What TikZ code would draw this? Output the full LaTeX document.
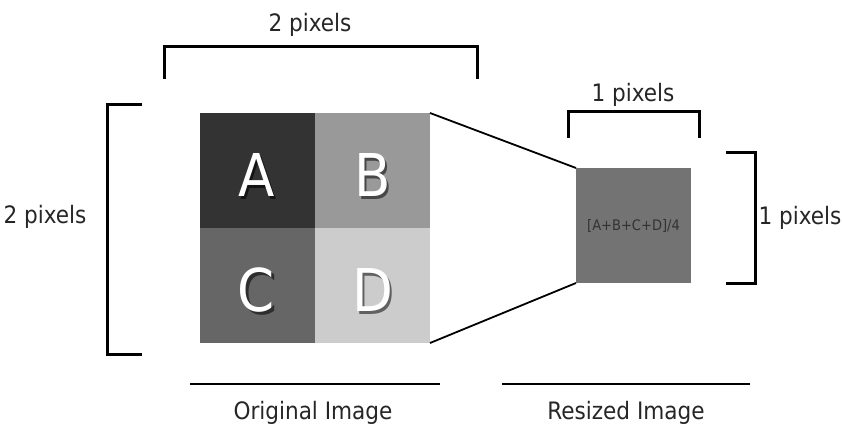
\documentclass[tikz,border=0pt]{standalone}
\usepackage{fontspec}
\setmainfont{DejaVu Sans Condensed}
\usetikzlibrary{calc}
\newcommand{\shadowed}[2]{\rlap{\kern2.5pt\raisebox{-2.5pt}{\color{#2}#1}}\color{white}#1}
\begin{document}
\begin{tikzpicture}[x=1pt,y=-1pt,
  cell/.style={minimum size=115pt, inner sep=0pt, outer sep=0pt, draw=none},
  letter/.style={inner sep=0pt, font=\fontsize{59}{61}\selectfont},
  lbl/.style={inner sep=0pt, font=\fontsize{24}{27}\selectfont, text=black!85},
  brk/.style={line width=3pt, line cap=butt, line join=miter},
  thin/.style={line width=1.8pt}]
\useasboundingbox (0,0) rectangle (842,427);
% original image cells
\node[cell, fill=black!80, anchor=north west] (A) at (200,113) {};
\node[cell, fill=black!40, anchor=north west] (B) at (315,113) {};
\node[cell, fill=black!60, anchor=north west] (C) at (200,228) {};
\node[cell, fill=black!20, anchor=north west] (D) at (315,228) {};
\node[letter] (lA) at ($(A)+(-1,6)$) {\shadowed{A}{black!92}};
\node[letter] (lB) at ($(B)+(0,6)$) {\shadowed{B}{black!72}};
\node[letter] (lC) at ($(C)+(-1,6)$) {\shadowed{C}{black!82}};
\node[letter] (lD) at ($(D)+(0,6)$) {\shadowed{D}{black!62}};
% resized
\node[cell, fill=black!55, anchor=north west, font=\fontsize{14.5}{16}\selectfont, text=black!80] (R) at (576,168) {[A+B+C+D]/4};
% connectors
\draw[thin] (B.north east) -- (R.north west);
\draw[thin] (D.south east) -- (R.south west);
% top bracket
\coordinate (t1) at (164,79);
\coordinate (t2) at (477,79);
\draw[brk] (t1) |- (310,47) -| (t2);
\node[lbl] (top) at (310,25) {2 pixels};
% left bracket
\draw[brk] (142,105) -| (107,354) -- (142,354);
\node[lbl] (left) at (45,217) {2 pixels};
% small top bracket
\draw[brk] (568,138) |- (633,112) -| (699,138);
\node[lbl] (top2) at (633,95) {1 pixels};
% right bracket
\draw[brk] (726,153) -| (755,283) -- (726,283);
\node[lbl] (right) at (800,218) {1 pixels};
% bottom captions
\coordinate (u1) at (190,384); \coordinate (u2) at (440,384);
\coordinate (u3) at (502,384); \coordinate (u4) at (750,384);
\draw[thin] (u1) -- (u2);
\draw[thin] (u3) -- (u4);
\node[lbl] (cap1) at (313,413) {Original Image};
\node[lbl] (cap2) at (626,413) {Resized Image};
\end{tikzpicture}
\end{document}
